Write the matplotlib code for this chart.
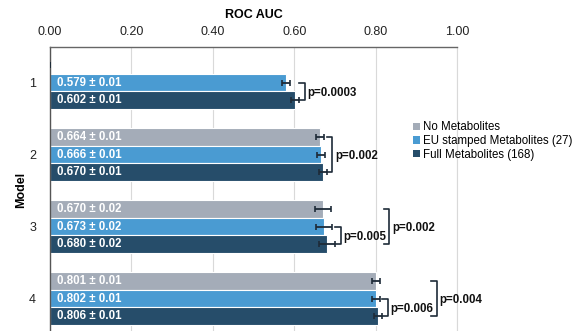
import matplotlib
matplotlib.use("Agg")
import matplotlib.pyplot as plt
from matplotlib.patches import Patch
import numpy as np

plt.rcParams['font.family'] = ['Liberation Sans', 'DejaVu Sans']

# data
models = ['1', '2', '3', '4']
series_names = ['No Metabolites', 'EU stamped Metabolites (27)', 'Full Metabolites (168)']
no_met = [0.0, 0.664, 0.670, 0.801]
no_met_err = [0.0, 0.01, 0.02, 0.01]
eu_met = [0.579, 0.666, 0.673, 0.802]
eu_met_err = [0.01, 0.01, 0.02, 0.01]
full_met = [0.602, 0.670, 0.680, 0.806]
full_met_err = [0.01, 0.01, 0.02, 0.01]
# (model index, series a, series b, p label, bracket level)
comparisons = [
    (0, 1, 2, 'p=0.0003', 0),
    (1, 0, 2, 'p=0.002', 0),
    (2, 1, 2, 'p=0.005', 0),
    (2, 0, 2, 'p=0.002', 1),
    (3, 1, 2, 'p=0.006', 0),
    (3, 0, 2, 'p=0.004', 1),
]

colors = ['#a4acb8', '#4a9bd2', '#264d6a']
err_color = '#1e2b38'
values = [no_met, eu_met, full_met]
errors = [no_met_err, eu_met_err, full_met_err]

fig = plt.figure(figsize=(5.84, 3.31), dpi=100)
ax = fig.add_axes([50 / 584, -0.0106, 407 / 584, 0.870])

y = np.arange(1, len(models) + 1)
slot = 0.243
offsets = [-slot, 0, slot]

for vals, errs, col, off in zip(values, errors, colors, offsets):
    vals = np.array(vals)
    errs = np.array(errs)
    show = vals > 0
    ax.barh(y[show] + off, vals[show], height=slot, color=col,
            edgecolor='white', linewidth=0.8, zorder=2)
    ax.errorbar(vals, y + off, xerr=errs, fmt='none', ecolor=err_color,
                elinewidth=1.3, capsize=2.0, capthick=1.2, zorder=3)
    for yy, v, e in zip(y + off, vals, errs):
        if v > 0:
            ax.text(0.018, yy, f'{v:.3f} \u00b1 {e:.2f}', color='white',
                    fontsize=8.3, fontweight='bold', va='center', ha='left', zorder=4)

# significance brackets
for m, a, b, label, level in comparisons:
    ends = [values[s][m] + errors[s][m] for s in (a, b)]
    x = max(ends) + 0.014 + 0.12 * level
    y0 = y[m] + offsets[a]
    y1 = y[m] + offsets[b]
    ax.plot([x - 0.014, x, x, x - 0.014], [y0, y0, y1, y1], color=err_color,
            lw=1.2, zorder=3, clip_on=False)
    ax.text(x + 0.006, (y0 + y1) / 2 + 0.02, label, fontsize=8.3, fontweight='bold',
            va='center', ha='left', color='#111111', zorder=4)

ax.set_xlim(0, 1)
ax.set_ylim(4.5, 0.5)
ax.set_xticks(np.arange(0, 1.01, 0.2))
ax.set_xticklabels([f'{t:.2f}' for t in np.arange(0, 1.01, 0.2)])
ax.xaxis.tick_top()
ax.xaxis.set_label_position('top')
ax.set_xlabel('ROC AUC', fontsize=9, fontweight='bold', labelpad=6)
ax.set_yticks(y)
ax.set_yticklabels(models)
ax.tick_params(axis='both', length=0, labelsize=9, colors='#222222')
ax.tick_params(axis='x', pad=6)
ax.tick_params(axis='y', pad=10)
ax.grid(axis='x', color='#d9d9d9', lw=0.8, zorder=0)
ax.set_axisbelow(True)
ax.spines['bottom'].set_visible(False)
ax.spines['right'].set_color('#d9d9d9')
ax.spines['top'].set_color('#666666')
ax.spines['left'].set_color('#555555')
ax.spines['top'].set_linewidth(1.0)
ax.spines['left'].set_linewidth(1.0)

fig.text(21 / 584, 1 - 190 / 331, 'Model', rotation=90, fontsize=9, fontweight='bold',
         ha='center', va='center')

handles = [Patch(facecolor=c, edgecolor='none') for c in colors]
fig.legend(handles, series_names, loc='center left', bbox_to_anchor=(405 / 584, 1 - 141 / 331),
           frameon=False, fontsize=8.3, handlelength=0.6, handleheight=0.6,
           handletextpad=0.25, labelspacing=0.15, borderpad=0.2)

fig.savefig('out.png', dpi=100)
